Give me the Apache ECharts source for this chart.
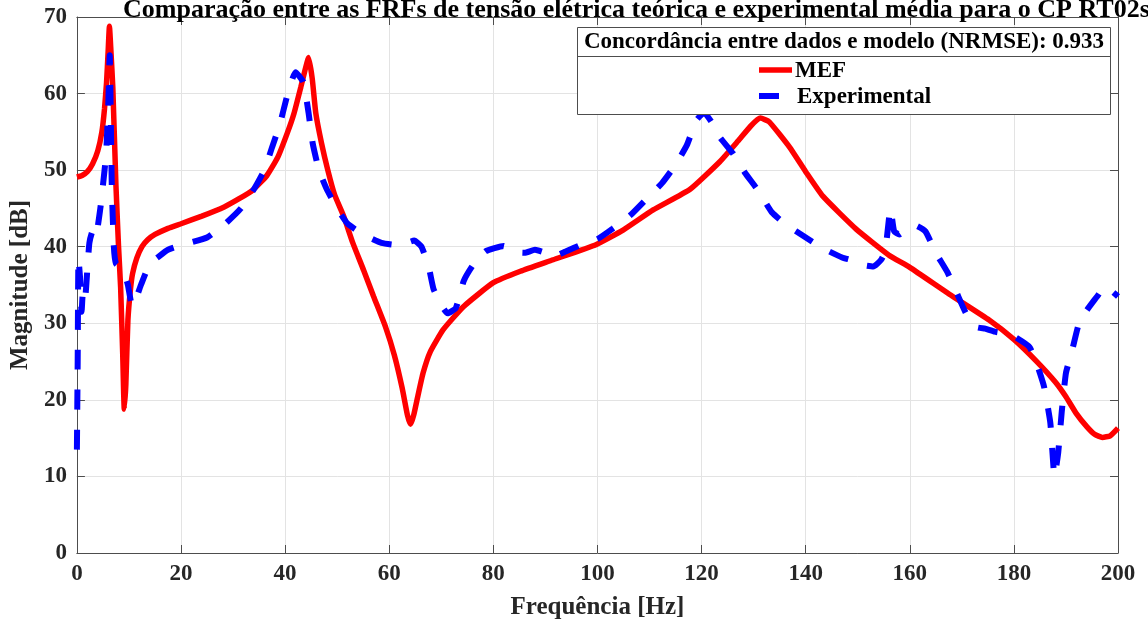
<!DOCTYPE html>
<html>
<head>
<meta charset="utf-8">
<script src="https://cdn.jsdelivr.net/npm/echarts@6/dist/echarts.min.js"></script>
<style>
  html, body { margin: 0; padding: 0; background: #fff; }
  #chart { width: 1148px; height: 626px; }
</style>
</head>
<body>
<div id="chart"></div>
<script>
// MEF (teórica)
const freqMEF = [0, 1, 2, 3, 4, 4.8, 5.3, 5.7, 6.0, 6.25, 6.5, 6.9, 7.5, 8.0, 8.4, 8.8, 9.1, 9.4, 9.8, 10.3, 10.7, 11.5, 12.5, 13.6, 15, 17.5, 20, 24, 28.3, 31, 33.8, 36.5, 38.6, 40.5, 41.7, 43, 43.8, 44.5, 45.2, 45.9, 47, 48.2, 49.5, 51.3, 53, 55.1, 57, 59.3, 61, 62.5, 63.5, 64.1, 64.7, 65.5, 66.5, 67.9, 70.4, 74.3, 80, 85.2, 91.5, 99.8, 105, 110.7, 117.8, 123.5, 127, 129.5, 131.3, 133, 136.9, 140, 143.3, 149.7, 156, 160, 167.6, 175.3, 180, 184.4, 188, 190, 192, 194, 195.5, 197, 198.5, 200];
const magMEF = [49.1, 49.3, 49.8, 50.8, 52.5, 55, 58, 61.5, 65.5, 68.8, 66, 60.8, 48, 40, 34.7, 26, 18.8, 22, 30.4, 34.5, 36.5, 38.5, 40, 40.9, 41.6, 42.4, 43, 44, 45.2, 46.2, 47.4, 49.3, 51.7, 55, 57.4, 60.8, 63, 64.7, 62, 57.4, 53.5, 50, 46.8, 43.9, 40.5, 36.9, 33.5, 29.5, 25.8, 21.5, 18, 16.8, 18, 20.5, 23.5, 26.3, 29.2, 32.2, 35.3, 36.8, 38.3, 40.3, 42.2, 44.8, 47.5, 51.1, 53.8, 55.8, 56.8, 56.3, 53, 49.8, 46.6, 42.3, 38.9, 37.3, 33.8, 30.4, 27.9, 25, 22.3, 20.4, 18.2, 16.5, 15.5, 15.1, 15.3, 16.3];

// Experimental (média)
const freqExp = [0, 0.15, 0.3, 0.6, 0.9, 1.2, 1.6, 2.0, 2.4, 3.0, 3.6, 4.5, 5.0, 5.6, 6.0, 6.3, 6.7, 7.1, 7.5, 8.5, 9.1, 9.8, 10.6, 11.5, 12.3, 14, 15.5, 17.5, 21, 25, 28.5, 31.5, 34, 36, 37.5, 39, 40.5, 42, 43.5, 44.5, 45.3, 46.5, 48, 50, 52, 55, 58.5, 62, 64.8, 66.2, 67.6, 68.5, 69.9, 71.2, 72.8, 74.3, 76, 78.5, 82, 84, 86, 88, 90, 91.5, 94, 97, 100, 103, 106.3, 109.5, 112.4, 115, 117.2, 119, 120.5, 122, 123.5, 126, 128.3, 130.8, 133.5, 136.4, 139.8, 143.3, 147, 149, 151, 153, 154.5, 155.3, 156.3, 157, 158, 159.3, 161, 163, 165, 167.2, 169, 170.8, 172.8, 174.5, 176.3, 178, 180, 183, 184.5, 185.8, 187, 187.8, 188.5, 189.2, 190, 191.2, 192.5, 194, 196.3, 197.3, 198.8, 200];
const magExp = [13.5, 25, 38.5, 36, 31.5, 34.5, 33.5, 37, 40.5, 42, 41.3, 45, 48, 52, 58, 65, 48, 40, 37.8, 37.2, 36.6, 35, 32.3, 33.5, 35, 37.8, 38.6, 39.6, 40.4, 41.2, 43, 45, 47.5, 50, 53, 56, 60, 62.8, 61.5, 57.5, 53.5, 50, 47.5, 45, 43, 41.6, 40.5, 40.2, 40.8, 40, 37.3, 34.5, 32.5, 31.3, 32, 35.5, 37.5, 39.4, 40.1, 39.3, 39.2, 39.6, 39.2, 38.7, 39.4, 40.3, 41, 42.4, 44.1, 46.3, 48.3, 50.7, 53.3, 56.5, 57.5, 56.2, 54.3, 52.2, 49.7, 47.4, 44.5, 42.8, 41.3, 39.8, 38.6, 38.2, 37.6, 37.4, 38.3, 39.5, 45, 42, 41.6, 42.3, 42.8, 42, 39.2, 36.7, 34, 31.3, 29.5, 29.3, 28.9, 28.7, 28.3, 26.9, 24.5, 21.7, 17, 10, 13, 18.5, 23.5, 26.5, 30, 31.7, 33.8, 34.8, 34.2, 33.5];

const xTicks = { min: 0, max: 200, interval: 20 };
const yTicks = { min: 0, max: 70, interval: 10 };

const serif = "'Liberation Serif', 'Times New Roman', serif";
const legendFont = "bold 23px 'Liberation Serif', serif";
const axisColor = '#4d4d4d';
const textColor = '#262626';
const redColor = '#ff0000';
const blueColor = '#0000ff';

const chart = echarts.init(document.getElementById('chart'));

const toPairs = (xs, ys) => xs.map((x, i) => [x, ys[i]]);

// caixa da legenda (com título NRMSE)
const legendBox = [
  {
    type: 'rect', z: 5,
    shape: { x: 577.5, y: 27.5, width: 533, height: 87 },
    style: { fill: '#fff', stroke: axisColor, lineWidth: 1 }
  },
  {
    type: 'line', z: 5,
    shape: { x1: 577.5, y1: 56.5, x2: 1110.5, y2: 56.5 },
    style: { stroke: axisColor, lineWidth: 1 }
  },
  {
    type: 'text', z: 6, x: 844, y: 42,
    style: {
      text: 'Concordância entre dados e modelo (NRMSE): 0.933',
      font: legendFont, fill: '#000', align: 'center', verticalAlign: 'middle'
    }
  },
  {
    type: 'line', z: 6,
    shape: { x1: 759, y1: 70, x2: 792, y2: 70 },
    style: { stroke: redColor, lineWidth: 5.5 }
  },
  {
    type: 'text', z: 6, x: 795, y: 71,
    style: { text: 'MEF', font: legendFont, fill: '#000', verticalAlign: 'middle' }
  },
  {
    type: 'line', z: 6,
    shape: { x1: 759, y1: 96, x2: 792, y2: 96 },
    style: { stroke: blueColor, lineWidth: 6, lineDash: [20, 20] }
  },
  {
    type: 'text', z: 6, x: 797, y: 97,
    style: { text: 'Experimental', font: legendFont, fill: '#000', verticalAlign: 'middle' }
  }
];

const option = {
  animation: false,
  backgroundColor: '#fff',
  title: {
    text: 'Comparação entre as FRFs de tensão elétrica teórica e experimental média para o CP RT02s',
    left: 118,
    top: -8,
    textStyle: { fontFamily: serif, fontWeight: 'bold', fontSize: 26, color: '#000' }
  },
  grid: { left: 75, right: 30, top: 17, bottom: 73 },
  xAxis: [
    {
      type: 'value',
      min: xTicks.min, max: xTicks.max, interval: xTicks.interval,
      name: 'Frequência [Hz]',
      nameLocation: 'middle',
      nameGap: 42,
      nameTextStyle: { fontFamily: serif, fontWeight: 'bold', fontSize: 25, color: textColor },
      axisLine: { show: true, onZero: false, lineStyle: { color: axisColor } },
      axisTick: { show: true, inside: true, length: 8, lineStyle: { color: axisColor } },
      axisLabel: { fontFamily: serif, fontWeight: 'bold', fontSize: 23, color: textColor, margin: 10 },
      splitLine: { show: true, lineStyle: { color: '#e3e3e3' } }
    },
    {
      type: 'value', position: 'top',
      min: xTicks.min, max: xTicks.max, interval: xTicks.interval,
      axisLine: { show: true, onZero: false, lineStyle: { color: axisColor } },
      axisTick: { show: true, inside: true, length: 8, lineStyle: { color: axisColor } },
      axisLabel: { show: false },
      splitLine: { show: false }
    }
  ],
  yAxis: [
    {
      type: 'value',
      min: yTicks.min, max: yTicks.max, interval: yTicks.interval,
      name: 'Magnitude [dB]',
      nameLocation: 'middle',
      nameGap: 31,
      nameTextStyle: { fontFamily: serif, fontWeight: 'bold', fontSize: 25, color: textColor },
      axisLine: { show: true, onZero: false, lineStyle: { color: axisColor } },
      axisTick: { show: true, inside: true, length: 8, lineStyle: { color: axisColor } },
      axisLabel: { fontFamily: serif, fontWeight: 'bold', fontSize: 23, color: textColor, margin: 10 },
      splitLine: { show: true, lineStyle: { color: '#e3e3e3' } }
    },
    {
      type: 'value', position: 'right',
      min: yTicks.min, max: yTicks.max, interval: yTicks.interval,
      axisLine: { show: true, onZero: false, lineStyle: { color: axisColor } },
      axisTick: { show: true, inside: true, length: 8, lineStyle: { color: axisColor } },
      axisLabel: { show: false },
      splitLine: { show: false }
    }
  ],
  graphic: legendBox,
  series: [
    {
      name: 'MEF',
      type: 'line',
      data: toPairs(freqMEF, magMEF),
      showSymbol: false, symbol: 'none',
      smooth: 0.15,
      lineStyle: { color: redColor, width: 5.5 },
      z: 2
    },
    {
      name: 'Experimental',
      type: 'line',
      data: toPairs(freqExp, magExp),
      showSymbol: false, symbol: 'none',
      smooth: 0.15,
      lineStyle: { color: blueColor, width: 6, type: [20, 20] },
      z: 3
    }
  ]
};

chart.setOption(option);
</script>
</body>
</html>
